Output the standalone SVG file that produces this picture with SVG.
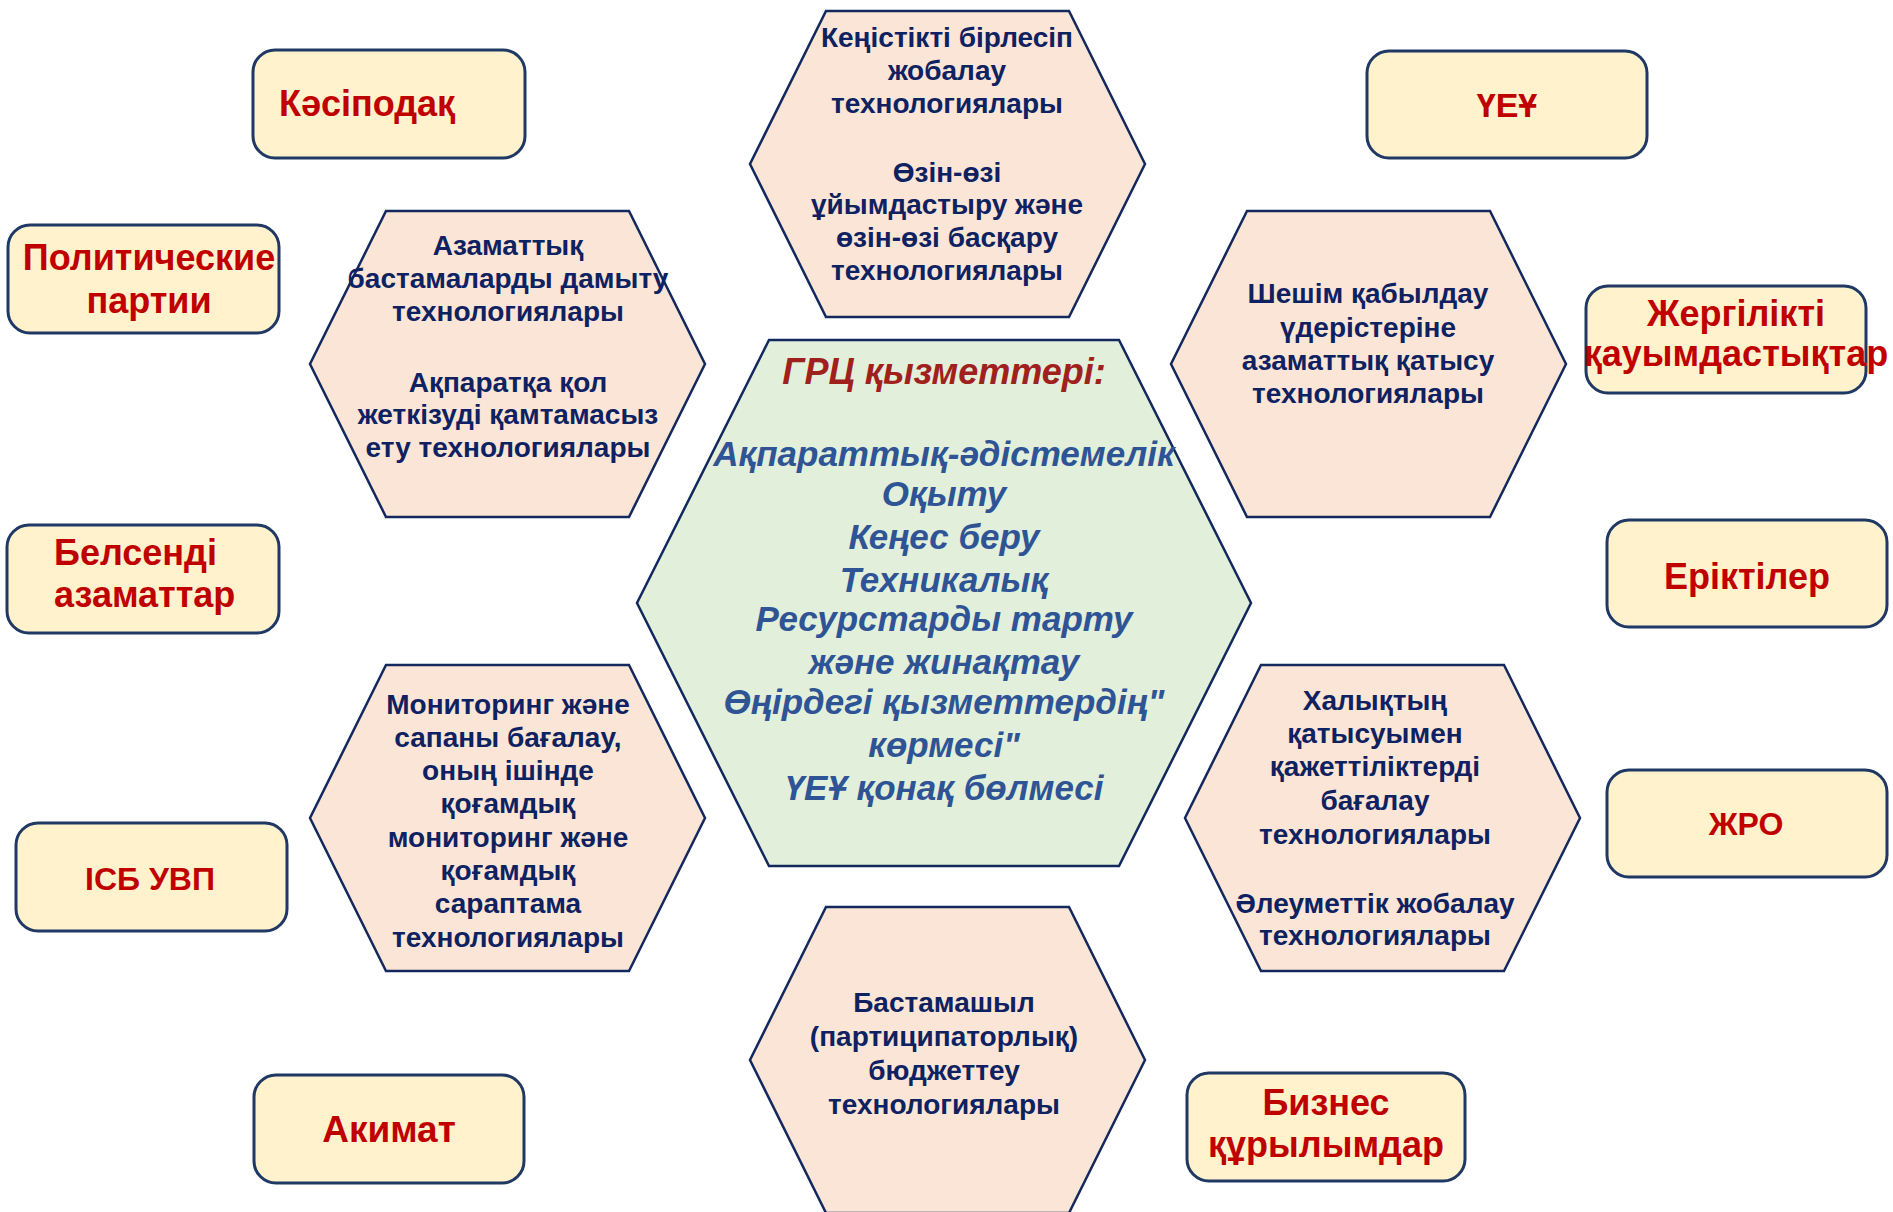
<svg xmlns="http://www.w3.org/2000/svg" width="1893" height="1212" viewBox="0 0 1893 1212">
<style>
.hex{fill:#FBE5D6;stroke:#13295E;stroke-width:2.5}
.hexc{fill:#E2EFDA;stroke:#13295E;stroke-width:2.5}
.box{fill:#FFF2CC;stroke:#1F3864;stroke-width:3}
.ht{font-family:"Liberation Sans",Arial,sans-serif;font-weight:bold;font-size:28px;fill:#0E2160;text-anchor:middle}
.ct{font-family:"Liberation Sans",Arial,sans-serif;font-weight:bold;font-style:italic;font-size:35px;fill:#2F5496;text-anchor:middle}
.title{fill:#A0201C;font-size:36px}
.bt{font-family:"Liberation Sans",Arial,sans-serif;font-weight:bold;font-size:36px;fill:#C00000;text-anchor:middle}
</style>
<rect width="1893" height="1212" fill="#FFFFFF"/>
<g id="connectors"></g>

<g id="hex-center">
<polygon class="hexc" points="769,340 1119,340 1251,603 1119,866 769,866 637,603"/>
<text class="ct title" x="944" y="384">ГРЦ қызметтері:</text>
<text class="ct" x="944" y="466">Ақпараттық-әдістемелік</text>
<text class="ct" x="944" y="506">Оқыту</text>
<text class="ct" x="944" y="549">Кеңес беру</text>
<text class="ct" x="944" y="592">Техникалық</text>
<text class="ct" x="944" y="631">Ресурстарды тарту</text>
<text class="ct" x="944" y="674">және жинақтау</text>
<text class="ct" x="944" y="714">Өңірдегі қызметтердің"</text>
<text class="ct" x="944" y="757">көрмесі"</text>
<text class="ct" x="944" y="800">ҮЕҰ қонақ бөлмесі</text>
</g>

<g id="hex-top">
<polygon class="hex" points="826,11 1069,11 1145,164 1069,317 826,317 750,164"/>
<text class="ht" x="947" y="47">Кеңістікті бірлесіп</text>
<text class="ht" x="947" y="80">жобалау</text>
<text class="ht" x="947" y="113">технологиялары</text>
<text class="ht" x="947" y="182">Өзін-өзі</text>
<text class="ht" x="947" y="214">ұйымдастыру және</text>
<text class="ht" x="947" y="247">өзін-өзі басқару</text>
<text class="ht" x="947" y="280">технологиялары</text>
</g>

<g id="hex-upper-left">
<polygon class="hex" points="386,211 629,211 705,364 629,517 386,517 310,364"/>
<text class="ht" x="508" y="255">Азаматтық</text>
<text class="ht" x="508" y="288">бастамаларды дамыту</text>
<text class="ht" x="508" y="321">технологиялары</text>
<text class="ht" x="508" y="392">Ақпаратқа қол</text>
<text class="ht" x="508" y="424">жеткізуді қамтамасыз</text>
<text class="ht" x="508" y="457">ету технологиялары</text>
</g>

<g id="hex-upper-right">
<polygon class="hex" points="1247,211 1490,211 1566,364 1490,517 1247,517 1171,364"/>
<text class="ht" x="1368" y="303">Шешім қабылдау</text>
<text class="ht" x="1368" y="337">үдерістеріне</text>
<text class="ht" x="1368" y="370">азаматтық қатысу</text>
<text class="ht" x="1368" y="403">технологиялары</text>
</g>

<g id="hex-lower-left">
<polygon class="hex" points="386,665 629,665 705,818 629,971 386,971 310,818"/>
<text class="ht" x="508" y="714">Мониторинг және</text>
<text class="ht" x="508" y="747">сапаны бағалау,</text>
<text class="ht" x="508" y="780">оның ішінде</text>
<text class="ht" x="508" y="813">қоғамдық</text>
<text class="ht" x="508" y="847">мониторинг және</text>
<text class="ht" x="508" y="880">қоғамдық</text>
<text class="ht" x="508" y="913">сараптама</text>
<text class="ht" x="508" y="947">технологиялары</text>
</g>

<g id="hex-lower-right">
<polygon class="hex" points="1261,665 1504,665 1580,818 1504,971 1261,971 1185,818"/>
<text class="ht" x="1375" y="710">Халықтың</text>
<text class="ht" x="1375" y="743">қатысуымен</text>
<text class="ht" x="1375" y="776">қажеттіліктерді</text>
<text class="ht" x="1375" y="810">бағалау</text>
<text class="ht" x="1375" y="844">технологиялары</text>
<text class="ht" x="1375" y="913">Әлеуметтік жобалау</text>
<text class="ht" x="1375" y="945">технологиялары</text>
</g>

<g id="hex-bottom">
<polygon class="hex" points="826,907 1069,907 1145,1060 1069,1213 826,1213 750,1060"/>
<text class="ht" x="944" y="1012">Бастамашыл</text>
<text class="ht" x="944" y="1046">(партиципаторлық)</text>
<text class="ht" x="944" y="1080">бюджеттеу</text>
<text class="ht" x="944" y="1114">технологиялары</text>
</g>

<g id="box-kasipodak">
<rect class="box" x="253" y="50" width="272" height="108" rx="22"/>
<text class="bt" x="367" y="116">Кәсіподақ</text>
</g>
<g id="box-parties">
<rect class="box" x="8" y="225" width="271" height="108" rx="22"/>
<text class="bt" x="149" y="270">Политические</text>
<text class="bt" x="149" y="313">партии</text>
</g>
<g id="box-ueu">
<rect class="box" x="1367" y="51" width="280" height="107" rx="22"/>
<text class="bt" x="1507" y="117" style="font-size:34px">ҮЕҰ</text>
</g>
<g id="box-local">
<rect class="box" x="1586" y="286" width="280" height="107" rx="22"/>
<text class="bt" x="1736" y="326">Жергілікті</text>
<text class="bt" x="1736" y="366">қауымдастықтар</text>
</g>
<g id="box-active">
<rect class="box" x="7" y="525" width="272" height="108" rx="22"/>
<text class="bt" x="54" y="565" style="text-anchor:start">Белсенді</text>
<text class="bt" x="54" y="607" style="text-anchor:start">азаматтар</text>
</g>
<g id="box-isb">
<rect class="box" x="16" y="823" width="271" height="108" rx="22"/>
<text class="bt" x="150" y="890" style="font-size:32px">ІСБ УВП</text>
</g>
<g id="box-volunteers">
<rect class="box" x="1607" y="520" width="280" height="107" rx="22"/>
<text class="bt" x="1747" y="589">Еріктілер</text>
</g>
<g id="box-zhro">
<rect class="box" x="1607" y="770" width="280" height="107" rx="22"/>
<text class="bt" x="1746" y="835" style="font-size:32px">ЖРО</text>
</g>
<g id="box-akimat">
<rect class="box" x="254" y="1075" width="270" height="108" rx="22"/>
<text class="bt" x="389" y="1142" style="font-size:37px">Акимат</text>
</g>
<g id="box-business">
<rect class="box" x="1187" y="1073" width="278" height="108" rx="22"/>
<text class="bt" x="1326" y="1115">Бизнес</text>
<text class="bt" x="1326" y="1157">құрылымдар</text>
</g>
</svg>
